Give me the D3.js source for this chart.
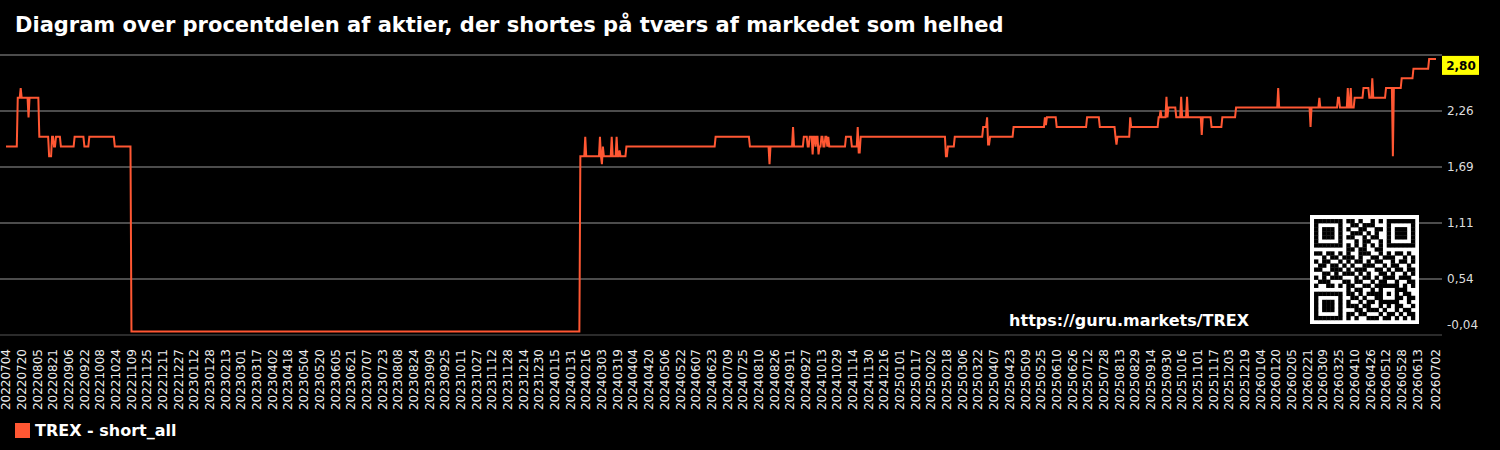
<!DOCTYPE html>
<html>
<head>
<meta charset="utf-8">
<script src="https://cdn.jsdelivr.net/npm/d3@7"></script>
<style>
  html, body { margin: 0; padding: 0; background: #000; }
  svg { display: block; font-family: "DejaVu Sans", sans-serif; }
</style>
</head>
<body>
<svg id="chart"></svg>
<script>
// Change points of the short_all series (date, value) - value holds until next date
const changeDates = [
  '20220704', '20220716', '20220719', '20220720', '20220727', '20220728', '20220807', '20220817',
  '20220820', '20220822', '20220824', '20220829', '20220912', '20220922', '20220927', '20221023',
  '20221109', '20240210', '20240215', '20240216', '20240301', '20240302', '20240303', '20240304',
  '20240305', '20240313', '20240314', '20240318', '20240319', '20240321', '20240322', '20240328',
  '20240627', '20240801', '20240821', '20240822', '20240914', '20240915', '20240925', '20240929',
  '20241001', '20241004', '20241005', '20241007', '20241008', '20241010', '20241011', '20241013',
  '20241015', '20241017', '20241019', '20241020', '20241021', '20241107', '20241113', '20241119',
  '20241120', '20241122', '20250217', '20250219', '20250226', '20250327', '20250331', '20250401',
  '20250403', '20250427', '20250529', '20250530', '20250531', '20250610', '20250711', '20250724',
  '20250809', '20250810', '20250811', '20250824', '20250825', '20250922', '20250924', '20250925',
  '20250930', '20251001', '20251002', '20251010', '20251015', '20251016', '20251021', '20251022',
  '20251105', '20251106', '20251115', '20251126', '20251210', '20260122', '20260123', '20260224',
  '20260225', '20260305', '20260306', '20260324', '20260326', '20260403', '20260404', '20260406',
  '20260407', '20260410', '20260419', '20260425', '20260428', '20260429', '20260512', '20260519',
  '20260520', '20260528', '20260609', '20260625', '20260702'
]
const changeValues = [
  1.90, 2.40, 2.50, 2.40, 2.20, 2.40, 2.00, 1.80,
  2.00, 1.90, 2.00, 1.90, 2.00, 1.90, 2.00, 1.90,
  0.00, 1.80, 2.00, 1.80, 2.00, 1.80, 1.72, 1.90,
  1.80, 2.00, 1.80, 2.00, 1.80, 1.86, 1.80, 1.90,
  2.00, 1.90, 1.72, 1.90, 2.10, 1.90, 2.00, 1.90,
  2.00, 1.82, 2.00, 1.90, 2.00, 1.82, 1.90, 2.00,
  1.90, 2.00, 1.90, 2.00, 1.90, 2.00, 1.90, 2.10,
  1.84, 2.00, 1.80, 1.90, 2.00, 2.10, 2.20, 1.92,
  2.00, 2.10, 2.20, 2.12, 2.20, 2.10, 2.20, 2.10,
  2.00, 1.92, 2.00, 2.20, 2.10, 2.20, 2.27, 2.20,
  2.41, 2.20, 2.30, 2.20, 2.41, 2.20, 2.41, 2.20,
  2.02, 2.20, 2.10, 2.20, 2.30, 2.50, 2.30, 2.10,
  2.30, 2.40, 2.30, 2.40, 2.30, 2.50, 2.30, 2.50,
  2.30, 2.40, 2.50, 2.40, 2.60, 2.40, 2.50, 1.80,
  2.50, 2.60, 2.70, 2.80, 2.80
]

const xTickLabels = [
  '20220704', '20220720', '20220805', '20220821', '20220906', '20220922', '20221008', '20221024',
  '20221109', '20221125', '20221211', '20221227', '20230112', '20230128', '20230213', '20230301',
  '20230317', '20230402', '20230418', '20230504', '20230520', '20230605', '20230621', '20230707',
  '20230723', '20230808', '20230824', '20230909', '20230925', '20231011', '20231027', '20231112',
  '20231128', '20231214', '20231230', '20240115', '20240131', '20240216', '20240303', '20240319',
  '20240404', '20240420', '20240506', '20240522', '20240607', '20240623', '20240709', '20240725',
  '20240810', '20240826', '20240911', '20240927', '20241013', '20241029', '20241114', '20241130',
  '20241216', '20250101', '20250117', '20250202', '20250218', '20250306', '20250322', '20250407',
  '20250423', '20250509', '20250525', '20250610', '20250626', '20250712', '20250728', '20250813',
  '20250829', '20250914', '20250930', '20251016', '20251101', '20251117', '20251203', '20251219',
  '20260104', '20260120', '20260205', '20260221', '20260309', '20260325', '20260410', '20260426',
  '20260512', '20260528', '20260613', '20260702'
]

const yTickValues = [-0.035, 0.54, 1.115, 1.69, 2.265, 2.84]
const yTickLabels = ['-0,04', '0,54', '1,11', '1,69', '2,26', '']

const seriesName = 'TREX - short_all'
const lastLabel = '2,80'
const title = 'Diagram over procentdelen af aktier, der shortes på tværs af markedet som helhed'
const url = 'https://guru.markets/TREX'

// QR code modules (decorative image in the original)
const qrRows = [
  '1111111011010010101111111',
  '1000001001101110001000001',
  '1011101010011001101011101',
  '1011101001110101001011101',
  '1011101011001011001011101',
  '1000001000101100101000001',
  '1111111010101010101111111',
  '0000000011011001100000000',
  '1101101010011100101011010',
  '0010110111010011011100101',
  '1011001010110101100101101',
  '0110110101001110010110010',
  '1100111010111001101011011',
  '0011010111010100110100101',
  '1010111000101101011101110',
  '0111000110110010110010011',
  '1001101011001101111110101',
  '0000000010110010100011100',
  '1111111011010111101010110',
  '1000001001101001100011011',
  '1011101010010110111110010',
  '1011101011101100101011001',
  '1011101000110111010010110',
  '1000001011011000101101011',
  '1111111010100111011010101'
]

const width = 1500
const height = 450
const lineColor = '#ff5733'

const parseDate = d3.timeParse('%Y%m%d')
const DAY = 24 * 3600 * 1000

const svg = d3.select('#chart')
  .attr('width', width)
  .attr('height', height)

svg.append('rect')
  .attr('width', width)
  .attr('height', height)
  .attr('fill', '#000')

// Scales
const xScale = d3.scaleTime()
  .domain([parseDate(changeDates[0]), parseDate(changeDates[changeDates.length - 1])])
  .range([6, 1436])

const yScale = d3.scaleLinear()
  .domain([yTickValues[0], yTickValues[yTickValues.length - 1]])
  .range([335, 55])

// Title
svg.append('text')
  .attr('x', 15)
  .attr('y', 32)
  .attr('fill', '#fff')
  .attr('font-size', 21)
  .attr('font-weight', 'bold')
  .text(title)

// Grid lines
svg.append('g')
  .selectAll('line')
  .data(yTickValues.slice(1))
  .enter()
  .append('line')
    .attr('x1', 0)
    .attr('x2', 1442)
    .attr('y1', d => yScale(d))
    .attr('y2', d => yScale(d))
    .attr('stroke', '#666')
    .attr('stroke-width', 1.5)

// baseline
svg.append('line')
  .attr('x1', 0)
  .attr('x2', 1442)
  .attr('y1', yScale(yTickValues[0]))
  .attr('y2', yScale(yTickValues[0]))
  .attr('stroke', '#3a3a3a')
  .attr('stroke-width', 1.5)

// Y tick labels (right side)
svg.append('g')
  .selectAll('text')
  .data(yTickValues)
  .enter()
  .append('text')
    .attr('x', 1447)
    .attr('y', (d, i) => i === 0 ? yScale(d) - 10 : yScale(d))
    .attr('dy', '0.35em')
    .attr('fill', '#ddd')
    .attr('font-size', 12)
    .text((d, i) => yTickLabels[i])

// X tick labels
svg.append('g')
  .selectAll('text')
  .data(xTickLabels)
  .enter()
  .append('text')
    .attr('transform', d => `translate(${xScale(parseDate(d))}, 349) rotate(-90)`)
    .attr('dy', '0.35em')
    .attr('text-anchor', 'end')
    .attr('fill', '#eee')
    .attr('font-size', 12)
    .text(d => d)

// QR code
const qr = svg.append('g').attr('transform', 'translate(1310, 215)')
const qrSize = 109
const mod = qrSize / (qrRows.length + 2)
qr.append('rect')
  .attr('width', qrSize)
  .attr('height', qrSize)
  .attr('fill', '#fff')
qrRows.forEach((row, r) => {
  row.split('').forEach((c, col) => {
    if (c === '1') {
      qr.append('rect')
        .attr('x', (col + 1) * mod)
        .attr('y', (r + 1) * mod)
        .attr('width', mod + 0.3)
        .attr('height', mod + 0.3)
        .attr('fill', '#000')
    }
  })
})

// URL watermark
svg.append('text')
  .attr('x', 1249)
  .attr('y', 326)
  .attr('text-anchor', 'end')
  .attr('fill', '#fff')
  .attr('font-size', 16)
  .attr('font-weight', 'bold')
  .text(url)

// Build line vertices: each change is preceded by the previous value on the day before
const points = []
changeDates.forEach((d, i) => {
  const date = parseDate(d)
  if (i > 0) {
    points.push({ date: new Date(date.getTime() - DAY), value: changeValues[i - 1] })
  }
  points.push({ date: date, value: changeValues[i] })
})

const line = d3.line()
  .x(d => xScale(d.date))
  .y(d => yScale(d.value))

svg.append('path')
  .datum(points)
  .attr('d', line)
  .attr('fill', 'none')
  .attr('stroke', lineColor)
  .attr('stroke-width', 2)
  .attr('stroke-linejoin', 'miter')

// Last value badge
const lastY = yScale(changeValues[changeValues.length - 1])
svg.append('rect')
  .attr('x', 1442)
  .attr('y', lastY - 3)
  .attr('width', 37)
  .attr('height', 19)
  .attr('fill', '#ffff00')
svg.append('text')
  .attr('x', 1461)
  .attr('y', lastY + 6.5)
  .attr('dy', '0.35em')
  .attr('text-anchor', 'middle')
  .attr('fill', '#000')
  .attr('font-size', 12)
  .attr('font-weight', 'bold')
  .text(lastLabel)

// Legend
svg.append('rect')
  .attr('x', 15)
  .attr('y', 423)
  .attr('width', 15)
  .attr('height', 15)
  .attr('fill', lineColor)
svg.append('text')
  .attr('x', 35)
  .attr('y', 436)
  .attr('fill', '#fff')
  .attr('font-size', 16)
  .attr('font-weight', 'bold')
  .text(seriesName)
</script>
</body>
</html>
